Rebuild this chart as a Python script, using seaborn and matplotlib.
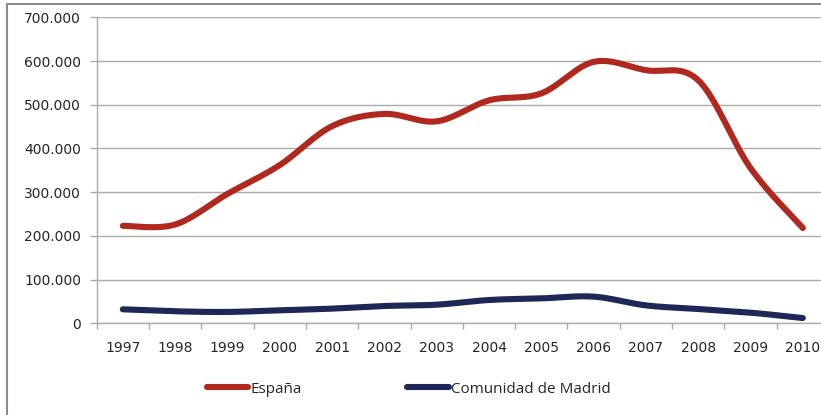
import numpy as np
import pandas as pd
import matplotlib
matplotlib.use("Agg")
import matplotlib.pyplot as plt
from matplotlib.lines import Line2D
from matplotlib.ticker import FuncFormatter, FixedLocator
import seaborn as sns

# ---- data ----
years = ["1997", "1998", "1999", "2000", "2001", "2002", "2003",
         "2004", "2005", "2006", "2007", "2008", "2009", "2010"]
espana = [223000, 226000, 296000, 362000, 451000, 479000, 462000,
          510000, 526000, 598000, 579000, 556000, 355000, 218000]
madrid = [32000, 27500, 26000, 29700, 33600, 39600, 42600,
          53300, 57000, 61000, 41000, 32700, 24300, 12000]
series_names = ["España", "Comunidad de Madrid"]
y_ticks = [0, 100000, 200000, 300000, 400000, 500000, 600000, 700000]

RED = "#B1281F"
NAVY = "#1E2858"
GRID = "#ABABAB"


def excel_smooth(xs, ys, n=40):
    """Bezier smoothing through points (Excel-style 'smoothed line')."""
    xs = np.asarray(xs, float)
    ys = np.asarray(ys, float)
    P = np.column_stack([xs, ys])
    Pe = np.vstack([P[0], P, P[-1]])
    out = []
    t = np.linspace(0, 1, n)[:, None]
    for i in range(len(P) - 1):
        p0, p1, p2, p3 = Pe[i], Pe[i + 1], Pe[i + 2], Pe[i + 3]
        c1 = p1 + (p2 - p0) / 6.0
        c2 = p2 - (p3 - p1) / 6.0
        seg = ((1 - t) ** 3) * p1 + 3 * ((1 - t) ** 2) * t * c1 + 3 * (1 - t) * t ** 2 * c2 + t ** 3 * p2
        out.append(seg if i == 0 else seg[1:])
    arr = np.vstack(out)
    return arr[:, 0], arr[:, 1]


W, H = 821, 415
fig = plt.figure(figsize=(W / 100, H / 100), dpi=100)
sns.set_style("white")
plt.rcParams["font.family"] = ["DejaVu Sans"]

left_px, right_px, top_px, bottom_px = 96.7, 829.0, 17.3, 323.3
ax = fig.add_axes([left_px / W, 1 - bottom_px / H,
                   (right_px - left_px) / W, (bottom_px - top_px) / H])

pos = np.arange(len(years))
frames = []
for name, vals in zip(series_names, [espana, madrid]):
    sx, sy = excel_smooth(pos, vals)
    frames.append(pd.DataFrame({"x": sx, "y": sy, "serie": name, "order": np.arange(len(sx))}))
df = pd.concat(frames, ignore_index=True)

for name, color in zip(series_names, [RED, NAVY]):
    sub = df[df["serie"] == name]
    sns.lineplot(data=sub, x="x", y="y", ax=ax, sort=False, color=color,
                 linewidth=4.4, legend=False, solid_capstyle="round",
                 solid_joinstyle="round", zorder=3)

ax.set_xlim(-0.5, len(years) - 0.5)
ax.set_ylim(0, 700000)
ax.set_xlabel("")
ax.set_ylabel("")

ax.set_yticks(y_ticks)
ax.yaxis.set_major_formatter(FuncFormatter(lambda v, p: f"{int(v):,}".replace(",", ".")))
ax.yaxis.grid(True, color=GRID, linewidth=1.0)
ax.set_axisbelow(True)

ax.set_xticks(pos)
ax.set_xticklabels(years)
ax.xaxis.set_minor_locator(FixedLocator(np.arange(-0.5, len(years), 1.0)))
ax.tick_params(axis="x", which="major", length=0, pad=13, labelsize=10, colors="#262626")
ax.tick_params(axis="x", which="minor", length=4.5, width=1, color=GRID, direction="out", bottom=True)
ax.tick_params(axis="y", which="major", length=4.8, width=1, color=GRID, direction="out",
               pad=6.5, labelsize=10, labelcolor="#262626", left=True)

for s in ["top", "right"]:
    ax.spines[s].set_visible(False)
for s in ["left", "bottom"]:
    ax.spines[s].set_visible(True)
    ax.spines[s].set_color(GRID)
    ax.spines[s].set_linewidth(1.0)

# outer frame (left and top visible)
fig.add_artist(Line2D([6.5 / W, 6.5 / W], [0, 1 - 4.5 / H], transform=fig.transFigure,
                      color="#8C8C8C", linewidth=1.5))
fig.add_artist(Line2D([6.5 / W, 1.0], [1 - 4.5 / H, 1 - 4.5 / H], transform=fig.transFigure,
                      color="#8C8C8C", linewidth=1.5))

handles = [Line2D([0], [0], color=RED, linewidth=4.4, solid_capstyle="round"),
           Line2D([0], [0], color=NAVY, linewidth=4.4, solid_capstyle="round")]
leg = fig.legend(handles, series_names, loc="center left",
                 bbox_to_anchor=(207 / W, 1 - 389 / H), bbox_transform=fig.transFigure,
                 ncol=2, frameon=False, handlelength=2.7, handletextpad=0.15,
                 columnspacing=6.9, borderpad=0, borderaxespad=0,
                 prop={"family": ["Open Sans", "DejaVu Sans"], "size": 11})
for t in leg.get_texts():
    t.set_color("#262626")

fig.savefig("out.png", dpi=100)
